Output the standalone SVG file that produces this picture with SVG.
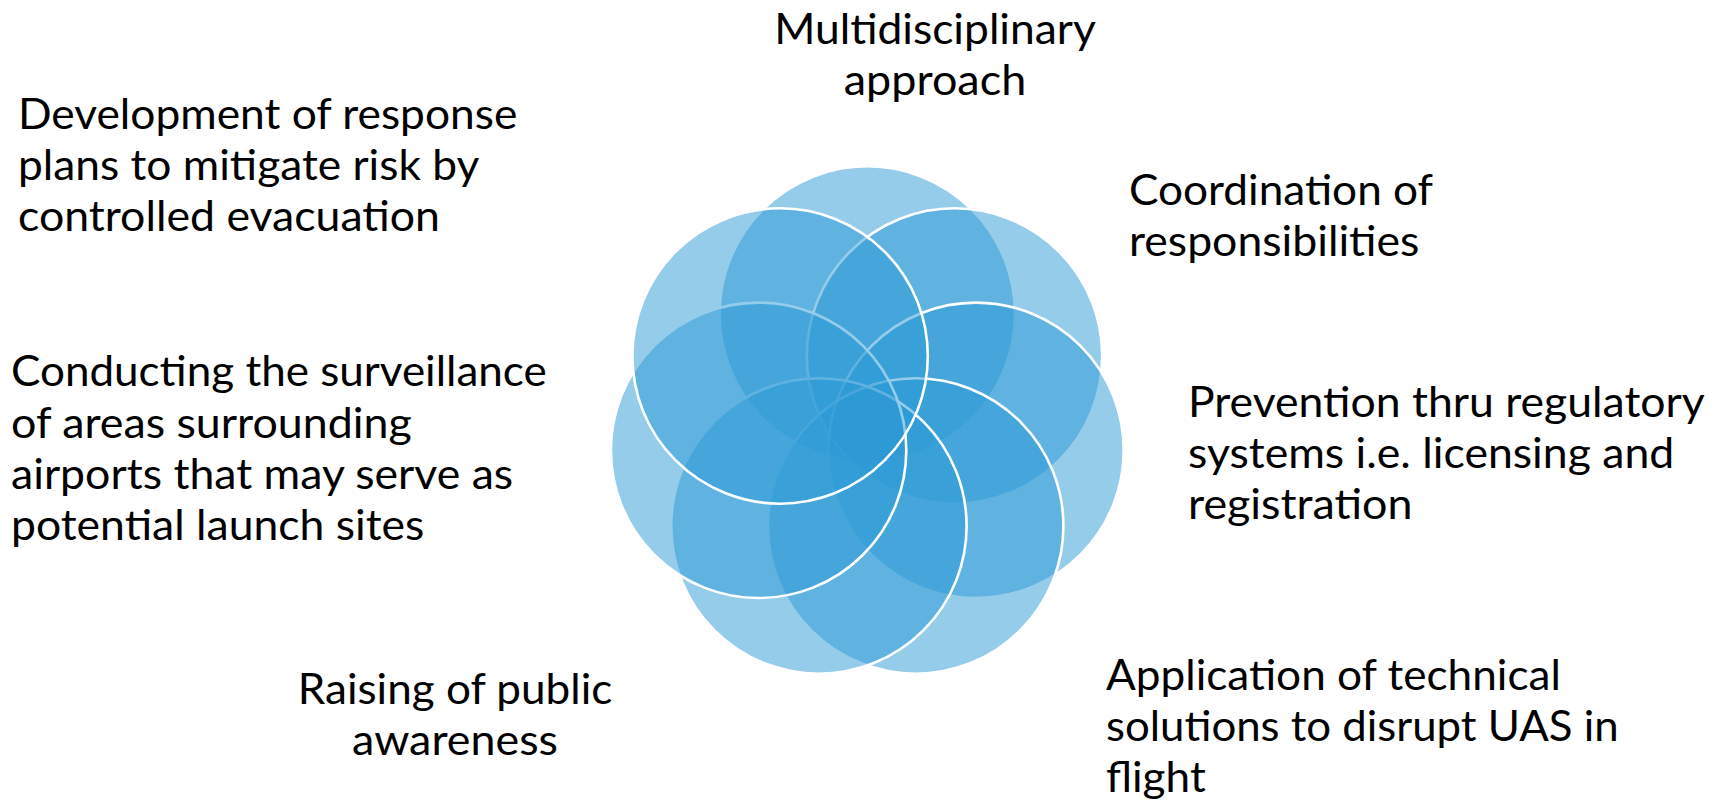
<svg xmlns="http://www.w3.org/2000/svg" width="1716" height="808" viewBox="0 0 1716 808">
<style>
.c{fill:#2C9AD5;fill-opacity:0.5;stroke:#FFFFFF;stroke-width:2.6}
.t{font-family:"Lato","Liberation Sans",sans-serif;font-size:43px;fill:#000000}
.m{text-anchor:middle}
</style>
<rect x="0" y="0" width="1716" height="808" fill="#FFFFFF"/>
<g id="flower">
<circle id="c1" class="c" cx="867.3" cy="314.0" r="147.7"/>
<circle id="c2" class="c" cx="954.5" cy="356.0" r="147.7"/>
<circle id="c3" class="c" cx="976.0" cy="450.3" r="147.7"/>
<circle id="c4" class="c" cx="915.7" cy="526.0" r="147.7"/>
<circle id="c5" class="c" cx="818.9" cy="526.0" r="147.7"/>
<circle id="c6" class="c" cx="758.6" cy="450.3" r="147.7"/>
<circle id="c7" class="c" cx="780.1" cy="356.0" r="147.7"/>
</g>
<g id="connectors"></g>
<g id="label-multidisciplinary" class="t m">
<text x="935" y="44" textLength="321.7" lengthAdjust="spacingAndGlyphs">Multidisciplinary</text>
<text x="935" y="95" textLength="182.4" lengthAdjust="spacingAndGlyphs">approach</text>
</g>
<g id="label-development" class="t">
<text x="18" y="129" textLength="499.3" lengthAdjust="spacingAndGlyphs">Development of response</text>
<text x="18" y="180" textLength="461.3" lengthAdjust="spacingAndGlyphs">plans to mitigate risk by</text>
<text x="18" y="231" textLength="422" lengthAdjust="spacingAndGlyphs">controlled evacuation</text>
</g>
<g id="label-coordination" class="t">
<text x="1129" y="205" textLength="304.1" lengthAdjust="spacingAndGlyphs">Coordination of</text>
<text x="1129" y="256" textLength="290.4" lengthAdjust="spacingAndGlyphs">responsibilities</text>
</g>
<g id="label-conducting" class="t">
<text x="11" y="386" textLength="535.7" lengthAdjust="spacingAndGlyphs">Conducting the surveillance</text>
<text x="11" y="437.5" textLength="400.8" lengthAdjust="spacingAndGlyphs">of areas surrounding</text>
<text x="11" y="489" textLength="502.2" lengthAdjust="spacingAndGlyphs">airports that may serve as</text>
<text x="11" y="540" textLength="413.4" lengthAdjust="spacingAndGlyphs">potential launch sites</text>
</g>
<g id="label-prevention" class="t">
<text x="1188" y="417" textLength="516.7" lengthAdjust="spacingAndGlyphs">Prevention thru regulatory</text>
<text x="1188" y="468" textLength="486.3" lengthAdjust="spacingAndGlyphs">systems i.e. licensing and</text>
<text x="1188" y="519" textLength="224.5" lengthAdjust="spacingAndGlyphs">registration</text>
</g>
<g id="label-raising" class="t m">
<text x="455" y="704" textLength="314.5" lengthAdjust="spacingAndGlyphs">Raising of public</text>
<text x="455" y="755" textLength="205.9" lengthAdjust="spacingAndGlyphs">awareness</text>
</g>
<g id="label-application" class="t">
<text x="1106" y="690" textLength="454.8" lengthAdjust="spacingAndGlyphs">Application of technical</text>
<text x="1106" y="741" textLength="512.6" lengthAdjust="spacingAndGlyphs">solutions to disrupt UAS in</text>
<text x="1106" y="792" textLength="99.7" lengthAdjust="spacingAndGlyphs">flight</text>
</g>
</svg>
